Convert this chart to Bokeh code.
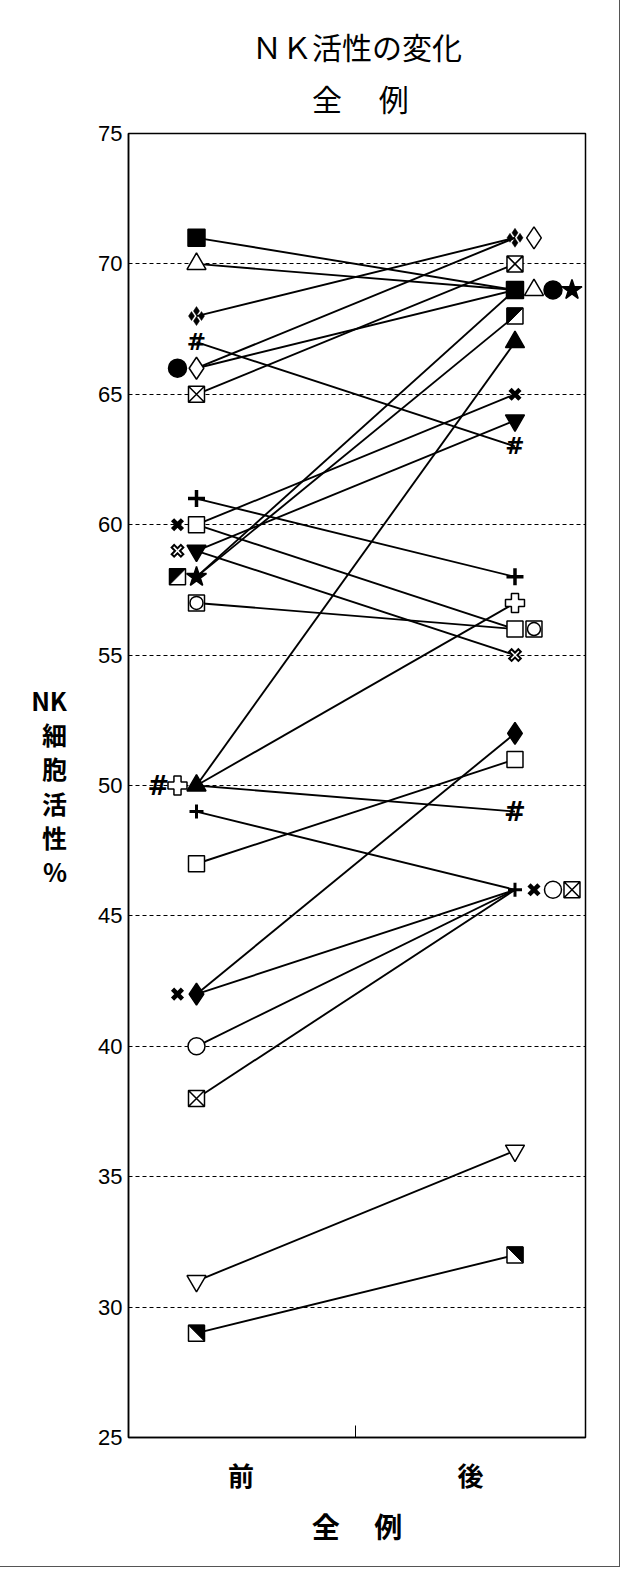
from bokeh.plotting import figure
from bokeh.models import FixedTicker, Title, Range1d, ColumnDataSource
from bokeh.embed import file_html
from bokeh.resources import INLINE
from bokeh.core.properties import value

# ---------------- data ----------------
categories = ["前", "後"]
title_main = "ＮＫ活性の変化"
title_sub = "全　 例"
x_title = "全　 例"
y_title = "NK\n細\n胞\n活\n性\n%"
y_ticks = [25, 30, 35, 40, 45, 50, 55, 60, 65, 70, 75]

pre_values = [71, 70, 68, 67, 66, 66, 65, 61, 60, 60, 59, 59, 58, 58, 57,
              50, 50, 50, 49, 47, 42, 42, 40, 38, 31, 29]
post_values = [69, 69, 71, 63, 69, 71, 70, 58, 65, 56, 55, 64, 68, 69, 56,
               67, 57, 49, 46, 51, 52, 46, 46, 46, 36, 32]
symbols = ["sq_b", "tri_w", "dia4", "hash", "cir_b", "dia_w", "sqx", "crs",
           "x_b", "sq_w", "x_o", "itri_b", "half_ul", "star_b", "cirsq",
           "tri_b", "plus_w", "hash_b", "crs_s", "sq_w", "dia_b", "x_b",
           "cir_w", "sqx", "itri_w", "half_ur"]

# ---------------- layout (marker side-by-side slots, label spots) ----------------
pre_slot = [0, 0, 0, 0, -1, 0, 0, 0, -1, 0, -1, 0, -1, 0, 0,
            0, -1, -2, 0, 0, 0, -1, 0, 0, 0, 0]
post_slot = [0, 1, 0, 0, 2, 1, 0, 0, 0, 0, 0, 0, 0, 3, 1,
             0, 0, 0, 0, 0, 0, 1, 2, 3, 0, 0]
label_pos = [1.14, 1.86]
SUB_INDENT = "\u3000\u2002\u2002"   # centres the second title line under the first

W, H = 619, 1566
B_LEFT, B_RIGHT, B_TOP, B_BOTTOM = 128, 34, 133, 129
FRAME_W = W - B_LEFT - B_RIGHT
FRAME_H = H - B_TOP - B_BOTTOM
X_START, X_END = 0.7865, 2.2214
Y_START, Y_END = 25, 75
PX_X = FRAME_W / (X_END - X_START)
PX_Y = FRAME_H / (Y_END - Y_START)
STEP = 19.0

JP = "Noto Sans CJK JP"
NUM = "Liberation Sans"

p = figure(width=W, height=H, output_backend="svg", toolbar_location=None,
           x_range=Range1d(X_START, X_END), y_range=Range1d(Y_START, Y_END),
           min_border_left=B_LEFT, min_border_right=B_RIGHT,
           min_border_top=B_TOP, min_border_bottom=B_BOTTOM,
           title=None)
p.background_fill_color = "white"
p.border_fill_color = "white"
p.outline_line_color = "black"
p.outline_line_width = 1.5
p.styles = {"outline": "1px solid #555"}

# two-line title
p.add_layout(Title(text=title_main + "\n" + SUB_INDENT + title_sub,
                   align="center", offset=11,
                   text_font=JP, text_font_size="30px",
                   text_font_style="normal", text_line_height=1.19,
                   text_color="black", standoff=26), "above")

# axes
p.xgrid.visible = False
p.ygrid.ticker = FixedTicker(ticks=y_ticks[1:-1])
p.ygrid.grid_line_color = "black"
p.ygrid.grid_line_dash = "4 3"
p.ygrid.grid_line_width = 1

p.yaxis.ticker = FixedTicker(ticks=y_ticks)
p.yaxis.major_label_text_font = NUM
p.yaxis.major_label_text_font_size = "22px"
p.yaxis.major_label_text_color = "black"
p.yaxis.major_tick_in = 0
p.yaxis.major_tick_out = 0
p.yaxis.minor_tick_in = 0
p.yaxis.minor_tick_out = 0
p.yaxis.major_label_standoff = 6
p.yaxis.axis_line_color = "black"
p.yaxis.axis_line_width = 1.5
p.yaxis.axis_label = y_title
p.yaxis.axis_label_orientation = "horizontal"
p.yaxis.axis_label_text_font = JP
p.yaxis.axis_label_text_font_size = "25px"
p.yaxis.axis_label_text_font_style = "bold"
p.yaxis.axis_label_text_line_height = 0.95
p.yaxis.axis_label_text_color = "black"
p.yaxis.axis_label_standoff = 28

p.xaxis.ticker = FixedTicker(ticks=label_pos, minor_ticks=[1.5])
p.xaxis.major_label_overrides = {label_pos[0]: categories[0],
                                 label_pos[1]: categories[1]}
p.xaxis.major_label_text_font = JP
p.xaxis.major_label_text_font_size = "26px"
p.xaxis.major_label_text_font_style = "bold"
p.xaxis.major_label_text_color = "black"
p.xaxis.major_tick_in = 0
p.xaxis.major_tick_out = 0
p.xaxis.minor_tick_in = 12
p.xaxis.minor_tick_out = 0
p.xaxis.minor_tick_line_color = "black"
p.xaxis.major_label_standoff = 18
p.xaxis.axis_line_color = "black"
p.xaxis.axis_line_width = 1.5
p.xaxis.axis_label = x_title
p.xaxis.axis_label_text_font = JP
p.xaxis.axis_label_text_font_size = "28px"
p.xaxis.axis_label_text_font_style = "bold"
p.xaxis.axis_label_text_color = "black"
p.xaxis.axis_label_standoff = 10

# connecting lines (from category position to category position)
seg = ColumnDataSource(dict(x0=[1] * len(pre_values), y0=pre_values,
                            x1=[2] * len(post_values), y1=post_values))
p.segment(x0="x0", y0="y0", x1="x1", y1="y1", source=seg,
          line_color="black", line_width=1.9)

# marker positions
pts = []
for i, k in enumerate(symbols):
    pts.append((1 + pre_slot[i] * STEP / PX_X, pre_values[i], k))
    pts.append((2 + post_slot[i] * STEP / PX_X, post_values[i], k))


def src(kind, ox=0.0, oy=0.0):
    xs = [a + ox / PX_X for a, b, c in pts if c == kind]
    ys = [b + oy / PX_Y for a, b, c in pts if c == kind]
    return ColumnDataSource(dict(x=xs, y=ys))


def sc(kind, marker, size, fill, lw=1.5, lc="black", ox=0.0, oy=0.0):
    p.scatter("x", "y", source=src(kind, ox, oy), marker=marker, size=size,
              fill_color=fill, line_color=lc, line_width=lw)


def tx(kind, text, size, style="normal", font="DejaVu Sans", yoff=0):
    s = src(kind)
    n = len(s.data["x"])
    s.data["t"] = [text] * n
    p.text("x", "y", text="t", source=s, text_font=value(font),
           text_font_size=size, text_font_style=style, text_align="center",
           text_baseline="middle", text_color="black", y_offset=yoff)


def half(kind, upper_left):
    s = src(kind)
    h = 8.0
    dx, dy = h / PX_X, h / PX_Y
    xs, ys = [], []
    for x, y in zip(s.data["x"], s.data["y"]):
        if upper_left:
            xs.append([x - dx, x + dx, x - dx])
            ys.append([y + dy, y + dy, y - dy])
        else:
            xs.append([x - dx, x + dx, x + dx])
            ys.append([y + dy, y + dy, y - dy])
    sc(kind, "square", 16, "white")
    p.patches(xs, ys, fill_color="black", line_color="black", line_width=1)


sc("sq_b", "square", 17, "black")
sc("tri_w", "triangle", 19, "white")
for ox, oy in [(-5, 0), (5, 0), (0, 5), (0, -5)]:
    sc("dia4", "diamond", 9, "black", lw=0.5, ox=ox, oy=oy)
tx("hash", "#", "23px", "bold")
sc("cir_b", "circle", 18, "black")
sc("dia_w", "diamond", 22, "white")
sc("sqx", "square_x", 16, "white")
sc("crs", "cross", 17, None, lw=3.5)
sc("x_b", "x", 14, None, lw=4.5)
sc("sq_w", "square", 16, "white")
sc("x_o", "x", 15, None, lw=5.5)
sc("x_o", "x", 11, None, lw=1.5, lc="white")
sc("itri_b", "inverted_triangle", 19, "black")
half("half_ul", True)
sc("star_b", "star", 21, "black")
sc("cirsq", "square", 16, "white")
sc("cirsq", "circle", 13, "white")
sc("tri_b", "triangle", 19, "black")
sc("plus_w", "plus", 19, "white")
tx("hash_b", "#", "26px", "bold")
sc("crs_s", "cross", 14, None, lw=3)
sc("dia_b", "diamond", 22, "black")
sc("cir_w", "circle", 17, "white")
sc("itri_w", "inverted_triangle", 19, "white")
half("half_ur", False)

open("out.html", "w").write(file_html(p, INLINE))
